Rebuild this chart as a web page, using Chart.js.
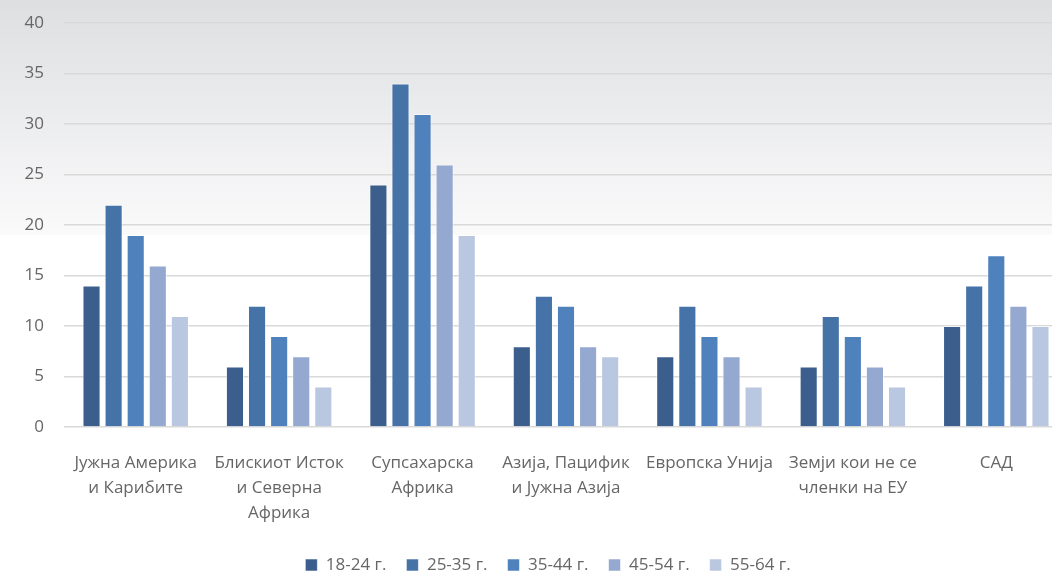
<!DOCTYPE html>
<html lang="mk">
<head>
<meta charset="UTF-8" />
<title>Старосни групи по региони</title>
<style>
  html, body {
    margin: 0;
    padding: 0;
    background: #fff;
    overflow: hidden;
  }
  .wrap {
    position: absolute;
    left: 0;
    top: 0;
    width: 1100px;
    height: 572px;
  }
</style>
</head>
<body>

<div class="wrap">
  <canvas id="ageChart"></canvas>
</div>

<script src="https://cdn.jsdelivr.net/npm/chart.js"></script>
<script>
const regions = [
  ['Јужна Америка', 'и Карибите'],
  ['Блискиот Исток', 'и Северна', 'Африка'],
  ['Супсахарска', 'Африка'],
  ['Азија, Пацифик', 'и Јужна Азија'],
  ['Европска Унија'],
  ['Земји кои не се', 'членки на ЕУ'],
  ['САД']
];

const ageGroups = ['18-24 г.', '25-35 г.', '35-44 г.', '45-54 г.', '55-64 г.'];

const age18_24 = [14, 6, 24, 8, 7, 6, 10];
const age25_35 = [22, 12, 34, 13, 12, 11, 14];
const age35_44 = [19, 9, 31, 12, 9, 9, 17];
const age45_54 = [16, 7, 26, 8, 7, 6, 12];
const age55_64 = [11, 4, 19, 7, 4, 4, 10];

const yTicks = [0, 5, 10, 15, 20, 25, 30, 35, 40];

const colors = ['#3b5e8c', '#4572a7', '#4f81bd', '#95a9d0', '#bac7e0'];
const series = [age18_24, age25_35, age35_44, age45_54, age55_64];

// светол преод во позадина
const bgPlugin = {
  id: 'bg',
  beforeDraw(chart) {
    const c = chart.ctx;
    const g = c.createLinearGradient(0, 0, 0, 235);
    g.addColorStop(0, '#dedfe1');
    g.addColorStop(1, '#fafafb');
    c.save();
    c.fillStyle = '#ffffff';
    c.fillRect(0, 0, chart.width, chart.height);
    c.fillStyle = g;
    c.fillRect(0, 0, chart.width, 235);
    c.restore();
  }
};

// легендата малку надесно, како во оригиналот
const legendShift = {
  id: 'legendShift',
  afterLayout(chart) {
    if (chart.legend) {
      chart.legend.left += 14;
      chart.legend.right += 14;
    }
  }
};

const ctx = document.getElementById('ageChart').getContext('2d');

const ageChart = new Chart(ctx, {
  type: 'bar',
  data: {
    labels: regions,
    datasets: series.map((d, i) => ({
      label: ageGroups[i],
      data: d,
      backgroundColor: colors[i],
      borderColor: 'rgba(255,255,255,0.55)',
      borderWidth: 1,
      categoryPercentage: 0.77,
      barPercentage: 0.82
    }))
  },
  options: {
    responsive: true,
    maintainAspectRatio: false,
    animation: false,
    layout: {
      padding: {top: 23, right: 32, left: 0, bottom: -11.5}
    },
    plugins: {
      tooltip: {enabled: false},
      legend: {
        position: 'bottom',
        labels: {
          boxWidth: 12,
          boxHeight: 12,
          padding: 20,
          color: '#666666',
          font: {family: "'Open Sans', sans-serif", size: 17}
        }
      }
    },
    scales: {
      x: {
        grid: {display: false},
        border: {display: false},
        ticks: {
          color: '#666666',
          padding: 16,
          maxRotation: 0,
          autoSkip: false,
          font: {family: "'Open Sans', sans-serif", size: 17, lineHeight: '25px'}
        },
        afterFit(scale) { scale.height = 109.5; }
      },
      y: {
        min: 0,
        max: 40,
        afterBuildTicks(scale) { scale.ticks = yTicks.map(v => ({value: v})); },
        border: {display: false},
        grid: {color: '#d9d9d9', lineWidth: 1.5, drawTicks: false},
        ticks: {
          color: '#666666',
          padding: 20,
          font: {family: "'Open Sans', sans-serif", size: 17}
        },
        afterFit(scale) {
          scale.width = 64;
          scale.paddingTop = 0;
          scale.paddingBottom = 0;
        }
      }
    }
  },
  plugins: [bgPlugin, legendShift]
});
</script>

</body>
</html>
